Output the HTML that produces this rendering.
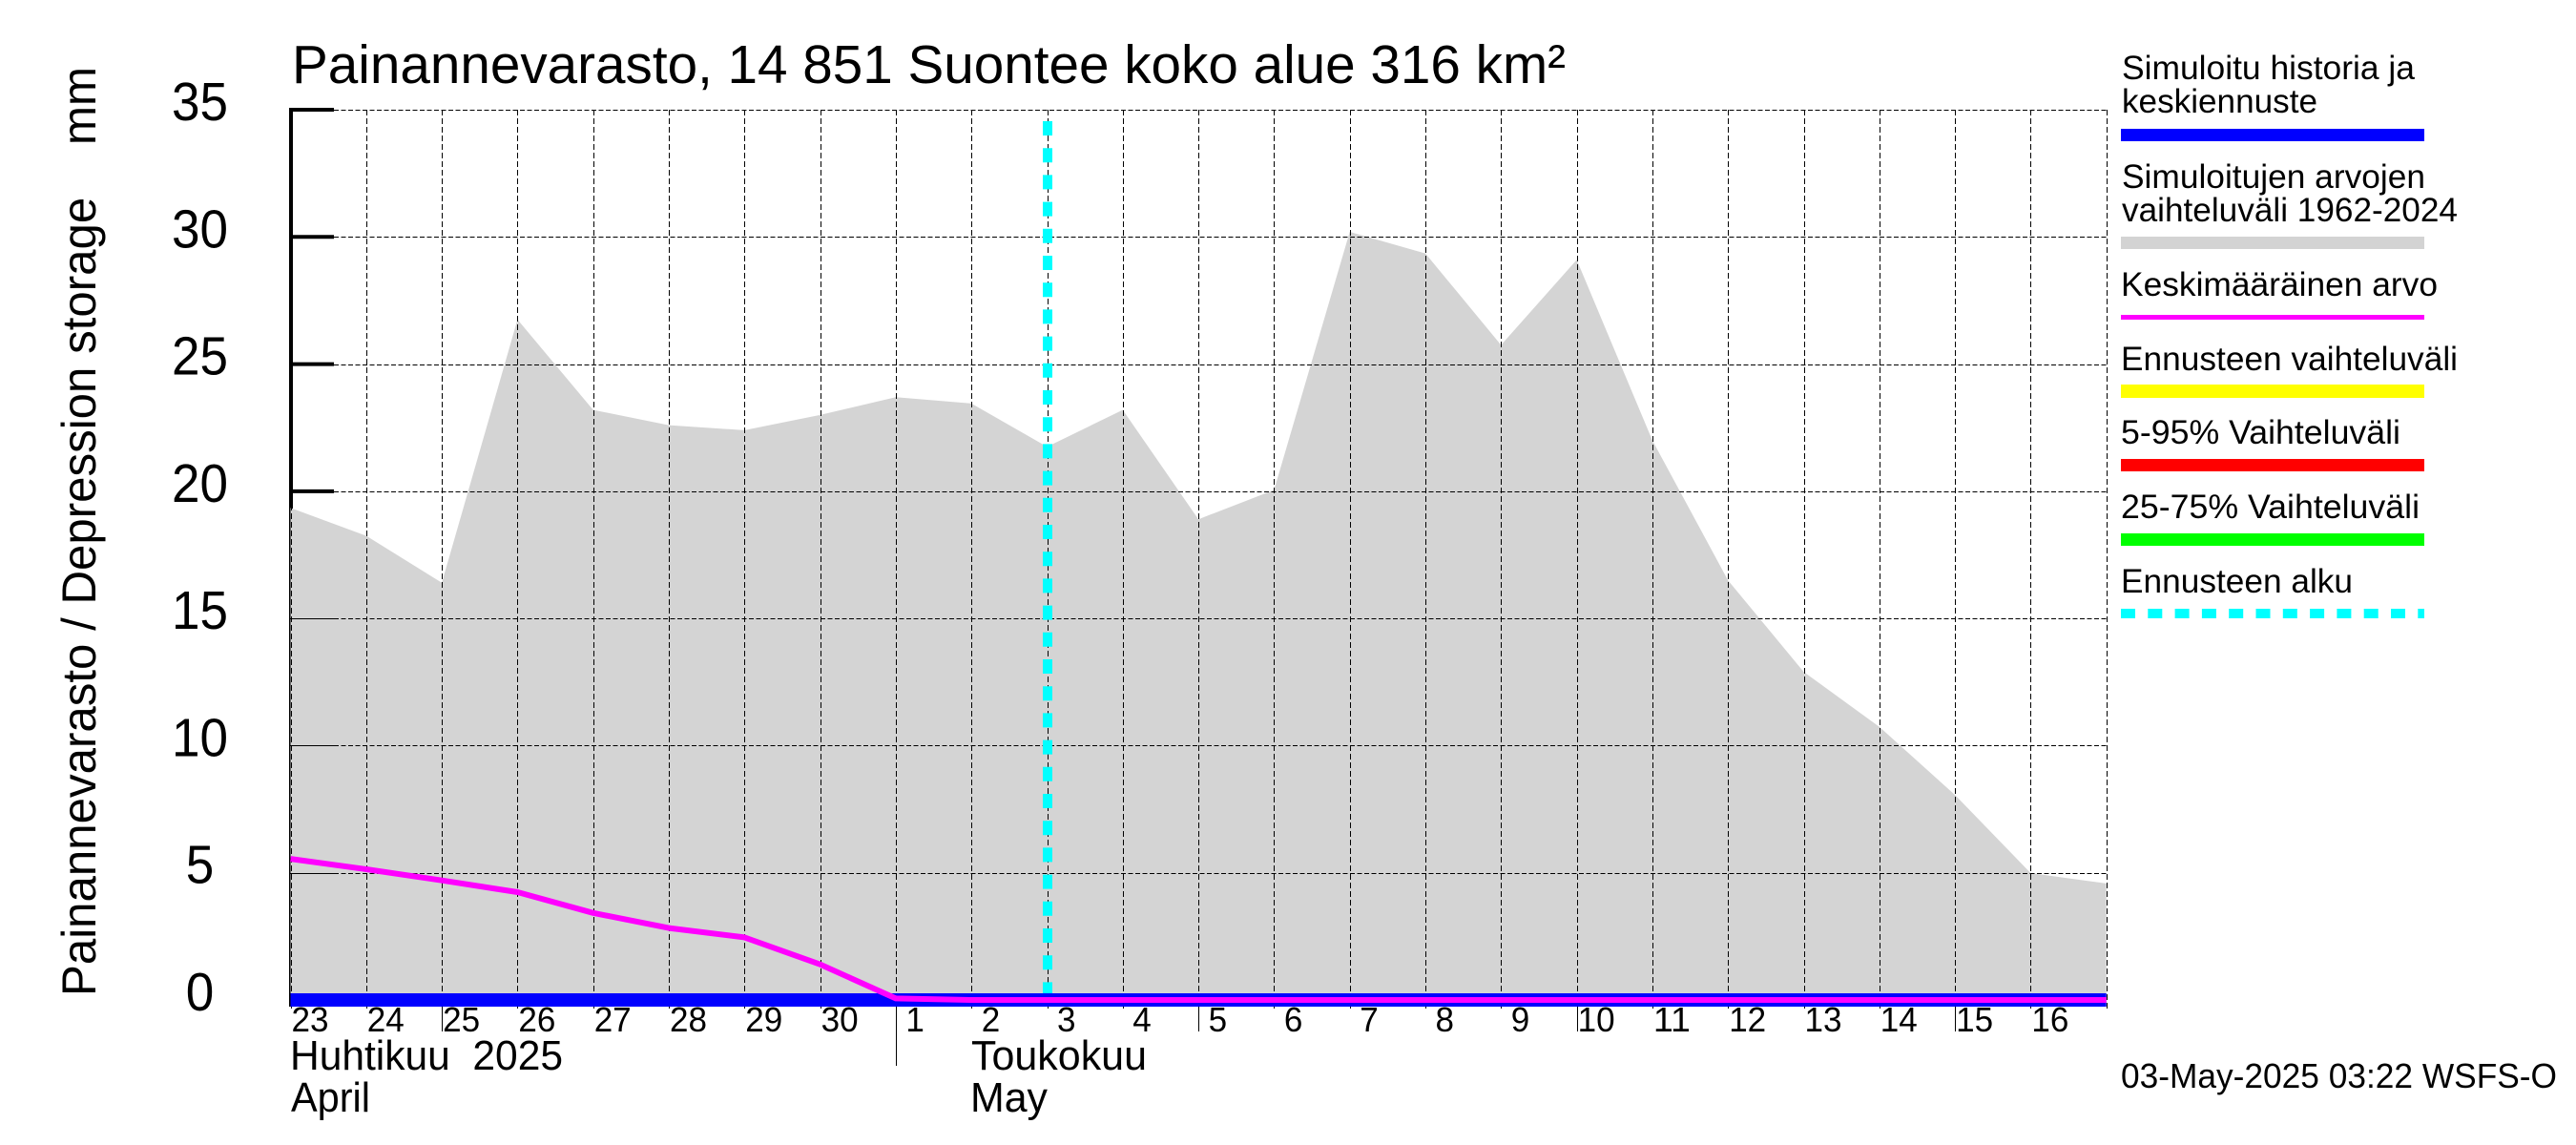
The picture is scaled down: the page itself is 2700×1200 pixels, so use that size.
<!DOCTYPE html>
<html lang="fi">
<head>
<meta charset="utf-8">
<title>Painannevarasto, 14 851 Suontee koko alue 316 km²</title>
<style>
html,body{margin:0;padding:0;background:#fff;}
svg{display:block;}
text{font-family:"Liberation Sans",sans-serif;fill:#000;white-space:pre;}
</style>
</head>
<body>
<svg id="chart" xmlns="http://www.w3.org/2000/svg" width="2700" height="1200" viewBox="0 0 2700 1200">
  <rect x="0" y="0" width="2700" height="1200" fill="#ffffff"/>
  <g id="axis-under"></g>
  <g id="range-layer"></g>
  <g id="grid-layer" shape-rendering="crispEdges"></g>
  <g id="forecast-layer"></g>
  <g id="series-layer"></g>
  <g id="tick-label-layer"></g>

  <text x="306" y="87" font-size="57" textLength="1335" lengthAdjust="spacingAndGlyphs">Painannevarasto, 14 851 Suontee koko alue 316 km²</text>
  <text transform="translate(100,1044) rotate(-90)" font-size="50" textLength="974" lengthAdjust="spacingAndGlyphs" xml:space="preserve">Painannevarasto / Depression storage    mm</text>

  <text x="304" y="1121" font-size="44" textLength="286" lengthAdjust="spacingAndGlyphs" xml:space="preserve">Huhtikuu  2025</text>
  <text x="305" y="1165" font-size="44" textLength="83" lengthAdjust="spacingAndGlyphs">April</text>
  <text x="1018" y="1121" font-size="44" textLength="184" lengthAdjust="spacingAndGlyphs">Toukokuu</text>
  <text x="1017" y="1165" font-size="44" textLength="81" lengthAdjust="spacingAndGlyphs">May</text>

  <g font-size="35">
    <g>
      <text x="2224" y="83" font-size="35" textLength="307" lengthAdjust="spacingAndGlyphs">Simuloitu historia ja</text>
      <text x="2224" y="118" font-size="35" textLength="205" lengthAdjust="spacingAndGlyphs">keskiennuste</text>
      <rect x="2223" y="135" width="318" height="13" fill="#0000ff"/>
    </g>
    <g>
      <text x="2224" y="197" font-size="35" textLength="318" lengthAdjust="spacingAndGlyphs">Simuloitujen arvojen</text>
      <text x="2224" y="232" font-size="35" textLength="352" lengthAdjust="spacingAndGlyphs">vaihteluväli 1962-2024</text>
      <rect x="2223" y="248" width="318" height="13" fill="#d3d3d3"/>
    </g>
    <g>
      <text x="2223" y="310" font-size="35" textLength="332" lengthAdjust="spacingAndGlyphs">Keskimääräinen arvo</text>
      <rect x="2223" y="330" width="318" height="5" fill="#ff00ff"/>
    </g>
    <g>
      <text x="2223" y="388" font-size="35" textLength="353" lengthAdjust="spacingAndGlyphs">Ennusteen vaihteluväli</text>
      <rect x="2223" y="403" width="318" height="14" fill="#ffff00"/>
    </g>
    <g>
      <text x="2223" y="465" font-size="35" textLength="293" lengthAdjust="spacingAndGlyphs">5-95% Vaihteluväli</text>
      <rect x="2223" y="481" width="318" height="13" fill="#ff0000"/>
    </g>
    <g>
      <text x="2223" y="543" font-size="35" textLength="313" lengthAdjust="spacingAndGlyphs">25-75% Vaihteluväli</text>
      <rect x="2223" y="559" width="318" height="13" fill="#00ff00"/>
    </g>
    <g>
      <text x="2223" y="621" font-size="35" textLength="243" lengthAdjust="spacingAndGlyphs">Ennusteen alku</text>
      <line x1="2223" y1="643" x2="2541" y2="643" stroke="#00ffff" stroke-width="10" stroke-dasharray="15 13.3"/>
    </g>
  </g>

  <text x="2223" y="1140" font-size="36" textLength="457" lengthAdjust="spacingAndGlyphs">03-May-2025 03:22 WSFS-O</text>
</svg>

<script>
// Chart data
const dayLabels = ["23","24","25","26","27","28","29","30","1","2","3","4","5","6","7","8","9","10","11","12","13","14","15","16"];
const rangeUpper = [19.35,18.25,16.4,26.75,23.2,22.6,22.4,23.0,23.7,23.45,21.75,23.2,18.9,20.05,30.2,29.35,25.75,29.1,22.0,16.5,12.9,10.74,8.06,4.99,4.58];
const rangeLower = [0,0,0,0,0,0,0,0,0,0,0,0,0,0,0,0,0,0,0,0,0,0,0,0,0];
const meanValues = [5.55,5.14,4.7,4.24,3.42,2.83,2.46,1.4,0.06,0,0,0,0,0,0,0,0,0,0,0,0,0,0,0,0];
const simulatedValues = [0,0,0,0,0,0,0,0,0,0,0,0,0,0,0,0,0,0,0,0,0,0,0,0,0];
const yTickValues = [0,5,10,15,20,25,30,35];
const forecastStartDay = [10];
const longTickDays = [2,12,17,22];
const monthBoundaryDays = [8];

const SVG_NS = "http://www.w3.org/2000/svg";
const X0 = 304.5, DAY_W = 79.3, Y0 = 1048, UNIT_H = 26.657;
const xScale = d => X0 + d * DAY_W;
const yScale = v => Y0 - v * UNIT_H;
const lastDay = rangeUpper.length - 1;

function make(parent, tag, attrs) {
  const el = document.createElementNS(SVG_NS, tag);
  for (const k in attrs) el.setAttribute(k, attrs[k]);
  parent.appendChild(el);
  return el;
}

const axisUnder = document.getElementById("axis-under");
const rangeLayer = document.getElementById("range-layer");
const gridLayer = document.getElementById("grid-layer");
const forecastLayer = document.getElementById("forecast-layer");
const seriesLayer = document.getElementById("series-layer");
const labelLayer = document.getElementById("tick-label-layer");

// Heavy axis and ticks (partly covered by the range polygon)
const axisLine = make(axisUnder, "line", {x1:xScale(0)+0.5, y1:yScale(35)-2, x2:xScale(0)+0.5, y2:1055, stroke:"#000", "stroke-width":4});


yTickValues.forEach(v => {
  const t = make(axisUnder, "line", {x1:xScale(0), y1:yScale(v), x2:350, y2:yScale(v), stroke:"#000", "stroke-width":4});
  
  
});

// Simulated range polygon
const upperPts = rangeUpper.map((v,i) => xScale(i).toFixed(1) + "," + yScale(v).toFixed(1));
const lowerPts = rangeLower.map((v,i) => xScale(i).toFixed(1) + "," + yScale(v).toFixed(1)).reverse();
const rangePoly = make(rangeLayer, "polygon", {points: upperPts.concat(lowerPts).join(" "), fill:"#d4d4d4"});



// Grid: horizontal lines
yTickValues.forEach(v => {
  const y = Math.round(yScale(v)) + 0.5;
  const solid = make(gridLayer, "line", {x1:xScale(0), y1:y, x2:350, y2:y, stroke:"#000", "stroke-width":1});
  
  
  const g = make(gridLayer, "line", {x1:350, y1:y, x2:xScale(lastDay), y2:y, stroke:"#000", "stroke-width":1, "stroke-dasharray":"5 2.5"});
  
  
});

// Grid: vertical lines with ticks below the band
for (let d = 0; d <= lastDay; d++) {
  const x = Math.round(xScale(d)) + 0.5;
  const g = make(gridLayer, "line", {x1:x, y1:yScale(35), x2:x, y2:1057, stroke:"#000", "stroke-width":1, "stroke-dasharray":"6 3"});
  
  
  if (longTickDays.includes(d)) {
    const t = make(gridLayer, "line", {x1:x, y1:1055, x2:x, y2:1081, stroke:"#000", "stroke-width":1});
    
    
  }
  if (monthBoundaryDays.includes(d)) {
    const t = make(gridLayer, "line", {x1:x, y1:1055, x2:x, y2:1117, stroke:"#000", "stroke-width":1});
    
    
  }
}

// Forecast start marker
const fx = xScale(forecastStartDay[0]) + 0.5;
const fLine = make(forecastLayer, "line", {x1:fx, y1:127, x2:fx, y2:1041, stroke:"#00ffff", "stroke-width":10, "stroke-dasharray":"15 13.2"});



// Simulated history line
const simPts = simulatedValues.map((v,i) => xScale(i).toFixed(1) + "," + yScale(v).toFixed(1)).join(" ");
const simLine = make(seriesLayer, "polyline", {points:simPts, fill:"none", stroke:"#0000ff", "stroke-width":14});



// Mean line
const meanPts = meanValues.map((v,i) => xScale(i).toFixed(1) + "," + yScale(v).toFixed(1)).join(" ");
const meanLine = make(seriesLayer, "polyline", {points:meanPts, fill:"none", stroke:"#ff00ff", "stroke-width":6, "stroke-linejoin":"round"});



// Y tick labels (centred in their column, slightly condensed)
yTickValues.forEach(v => {
  const s = String(v);
  const t = make(labelLayer, "text", {x:209.5, y:yScale(v)+11, "font-size":57, "text-anchor":"middle", textLength:s.length*29.5, lengthAdjust:"spacingAndGlyphs"});
  
  
  t.textContent = s;
});

// X tick labels
dayLabels.forEach((lab,i) => {
  const offset = lab.length === 1 ? 10.5 : 1;
  const t = make(labelLayer, "text", {x:xScale(i)+offset, y:1081, "font-size":36, textLength:lab.length*19.5, lengthAdjust:"spacingAndGlyphs"});
  
  
  t.textContent = lab;
});
</script>
</body>
</html>
